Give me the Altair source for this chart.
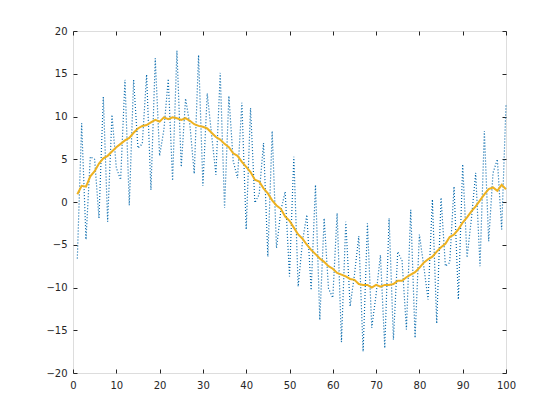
import altair as alt
import pandas as pd

x_vals = list(range(1, 101))

noisy = [
    -6.6, 9.2, -4.4, 5.3, 5.0, -1.9, 12.3, -2.3, 10.2, 4.0,
    2.6, 14.3, -0.4, 14.3, 6.3, 6.8, 14.9, 1.4, 16.8, 5.4,
    8.5, 14.4, 2.5, 17.7, 4.1, 12.1, 9.0, 3.3, 17.2, 1.9,
    12.7, 7.9, 3.2, 15.1, -0.7, 12.4, 4.8, 2.8, 11.6, -3.2,
    11.0, -0.1, 0.9, 6.9, -6.4, 8.3, -5.4, -1.0, 1.2, -8.7,
    5.3, -9.9, -4.6, -1.5, -10.3, 2.0, -13.8, -1.9, -10.1, -11.2,
    -1.3, -16.4, -2.3, -12.2, -8.5, -4.0, -17.5, -2.5, -14.7, -10.8,
    -6.2, -17.1, -1.9, -16.1, -5.8, -6.9, -14.9, -0.9, -15.9, -3.8,
    -7.5, -11.4, 0.3, -14.2, 0.5, -7.5, -7.1, 1.8, -11.4, 4.4,
    -6.5, -2.0, 3.4, -7.5, 8.3, -4.6, 3.4, 5.0, -3.2, 11.4,
]

smooth = [
    0.9, 1.9, 1.8, 3.0, 3.6, 4.5, 5.1, 5.4, 5.9, 6.4,
    6.8, 7.2, 7.5, 8.1, 8.6, 8.9, 9.0, 9.3, 9.6, 9.4,
    9.9, 9.7, 9.9, 9.8, 9.6, 9.8, 9.5, 9.1, 8.9, 8.8,
    8.6, 8.1, 7.6, 7.3, 6.8, 6.4, 5.7, 5.4, 4.7, 4.1,
    3.5, 2.6, 2.4, 1.6, 1.0, 0.2, -0.4, -0.8, -1.7, -2.2,
    -3.0, -3.8, -4.3, -5.0, -5.6, -6.1, -6.6, -7.0, -7.5, -7.8,
    -8.3, -8.5, -8.7, -9.0, -9.1, -9.6, -9.7, -9.7, -10.0, -9.7,
    -9.9, -9.7, -9.7, -9.6, -9.2, -9.2, -8.8, -8.5, -8.2, -7.7,
    -7.1, -6.7, -6.4, -5.8, -5.3, -4.9, -4.1, -3.8, -3.2, -2.4,
    -1.8, -1.1, -0.5, 0.2, 0.9, 1.5, 1.7, 1.3, 2.0, 1.5,
]

x_ticks = list(range(0, 101, 10))
y_ticks = list(range(-20, 21, 5))

df = pd.DataFrame({"x": x_vals, "noisy": noisy, "smooth": smooth})

AX = "#262626"
FONT = "DejaVu Sans"

xscale = alt.Scale(domain=[0, 100], nice=False, zero=False)
yscale = alt.Scale(domain=[-20, 20], nice=False, zero=False)

common_axis = dict(
    domain=False, grid=False, ticks=True, tickSize=4, tickColor=AX,
    tickWidth=1, offset=-4, labelFont=FONT, labelFontSize=10,
    labelColor=AX, title=None, labelFlush=False, labelOverlap=False,
)

noisy_line = alt.Chart(df).mark_line(
    color="#0066AA", strokeWidth=1.2, strokeDash=[1, 2], strokeCap="butt"
).encode(
    x=alt.X("x:Q", scale=xscale,
            axis=alt.Axis(orient="bottom", values=x_ticks, labelPadding=7, **common_axis)),
    y=alt.Y("noisy:Q", scale=yscale,
            axis=alt.Axis(orient="left", values=y_ticks, labelPadding=6, **common_axis)),
)

smooth_line = alt.Chart(df).mark_line(
    color="#EDB120", strokeWidth=2
).encode(
    x=alt.X("x:Q", scale=xscale,
            axis=alt.Axis(orient="top", values=x_ticks, labels=False, **common_axis)),
    y=alt.Y("smooth:Q", scale=yscale,
            axis=alt.Axis(orient="right", values=y_ticks, labels=False, **common_axis)),
)

chart = alt.layer(noisy_line, smooth_line).resolve_axis(
    x="independent", y="independent"
).properties(
    width=433, height=342,
    autosize=alt.AutoSizeParams(type="none"),
    padding={"left": 65, "top": 23, "right": 30, "bottom": 30},
).configure_view(
    stroke=AX, strokeWidth=1
).configure(background="white")

chart.save("out.html", embed_options={"renderer": "svg", "actions": False})
